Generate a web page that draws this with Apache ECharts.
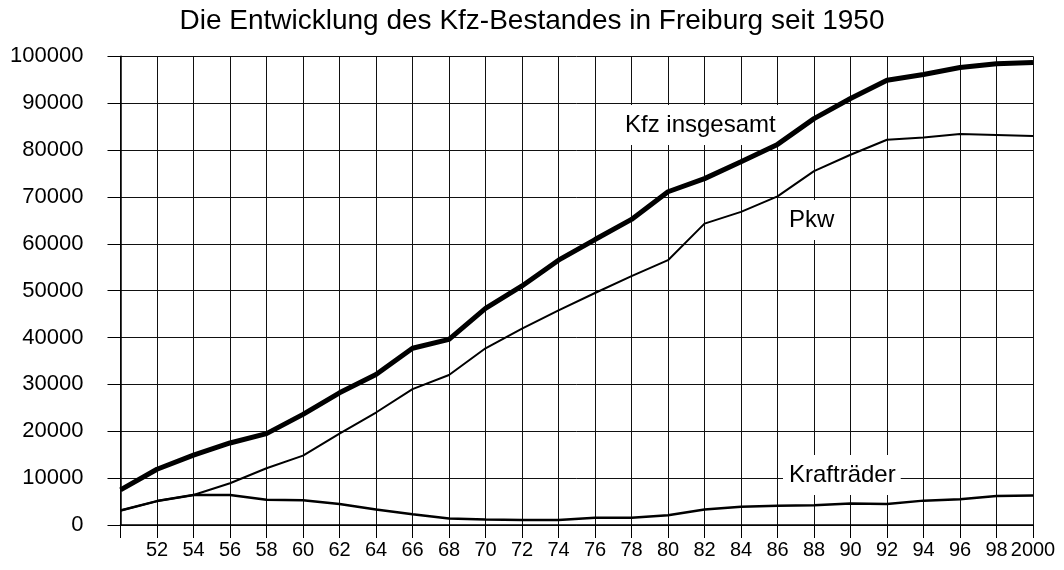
<!DOCTYPE html>
<html>
<head>
<meta charset="utf-8">
<script src="https://cdn.jsdelivr.net/npm/echarts@6/dist/echarts.min.js"></script>
<style>html,body{margin:0;padding:0;background:#fff}#c{width:1064px;height:570px}</style>
</head>
<body>
<div id="c"></div>
<script>
const years = ['1950','1952','1954','1956','1958','1960','1962','1964','1966','1968','1970','1972','1974','1976','1978','1980','1982','1984','1986','1988','1990','1992','1994','1996','1998','2000'];
const kfzTotal = [7500,11900,14900,17500,19500,23600,28200,32100,37700,39600,46200,51000,56500,60900,65200,71100,73900,77500,81200,86700,91000,94900,96100,97600,98400,98700];
const pkw = [3100,5100,6400,8900,12100,14800,19500,24000,29000,32000,37700,41900,45800,49500,53100,56500,64300,66800,70100,75500,79000,82200,82700,83400,83200,83000];
const kraftraeder = [3100,5100,6400,6400,5400,5300,4500,3300,2300,1400,1200,1050,1050,1550,1550,2100,3300,3900,4100,4200,4600,4500,5200,5500,6200,6300];
const yTicks = [0,10000,20000,30000,40000,50000,60000,70000,80000,90000,100000];
const titleText = 'Die Entwicklung des Kfz-Bestandes in Freiburg seit 1950';
const seriesNames = ['Kfz insgesamt','Pkw','Krafträder'];

const font = 'Liberation Sans, Arial, sans-serif';
const chart = echarts.init(document.getElementById('c'));
const labelBox = (text, x, y) => ({
  type: 'text', left: x, top: y, z: 1,
  style: { text: text, fill: '#000', font: '24px ' + font, backgroundColor: '#fff', padding: [8, 5, 8, 6] }
});
chart.setOption({
  animation: false,
  backgroundColor: '#fff',
  title: { text: titleText, left: 'center', top: 2, textStyle: { fontFamily: font, fontSize: 28, fontWeight: 'normal', color: '#000' } },
  grid: { left: 120.5, right: 31, top: 56.3, bottom: 45, containLabel: false },
  xAxis: {
    type: 'category', data: years, boundaryGap: false,
    axisLine: { lineStyle: { color: '#000', width: 1.5 } },
    axisTick: { show: true, length: 13, interval: 0, lineStyle: { color: '#000' } },
    axisLabel: { interval: 0, margin: 15, fontFamily: font, fontSize: 20, color: '#000',
      formatter: (v, i) => i === 0 ? '' : (v === '2000' ? '2000' : v.slice(2)) },
    splitLine: { show: true, interval: 0, lineStyle: { color: '#111', width: 1 } }
  },
  yAxis: {
    type: 'value', min: yTicks[0], max: yTicks[yTicks.length - 1], interval: 10000,
    axisLine: { show: true, lineStyle: { color: '#000', width: 1.5 } },
    axisTick: { show: true, length: 13, lineStyle: { color: '#000' } },
    axisLabel: { margin: 37, fontFamily: font, fontSize: 22, color: '#000', formatter: v => String(v) },
    splitLine: { show: true, lineStyle: { color: '#111', width: 1 } }
  },
  series: [
    { name: seriesNames[0], type: 'line', data: kfzTotal, symbol: 'none', lineStyle: { color: '#000', width: 5 }, z: 5 },
    { name: seriesNames[1], type: 'line', data: pkw, symbol: 'none', lineStyle: { color: '#000', width: 2 }, z: 4 },
    { name: seriesNames[2], type: 'line', data: kraftraeder, symbol: 'none', lineStyle: { color: '#000', width: 2.5 }, z: 4 }
  ],
  graphic: [
    labelBox(seriesNames[0], 619, 105),
    labelBox(seriesNames[1], 783, 200),
    labelBox(seriesNames[2], 783, 455)
  ]
});
</script>
</body>
</html>
